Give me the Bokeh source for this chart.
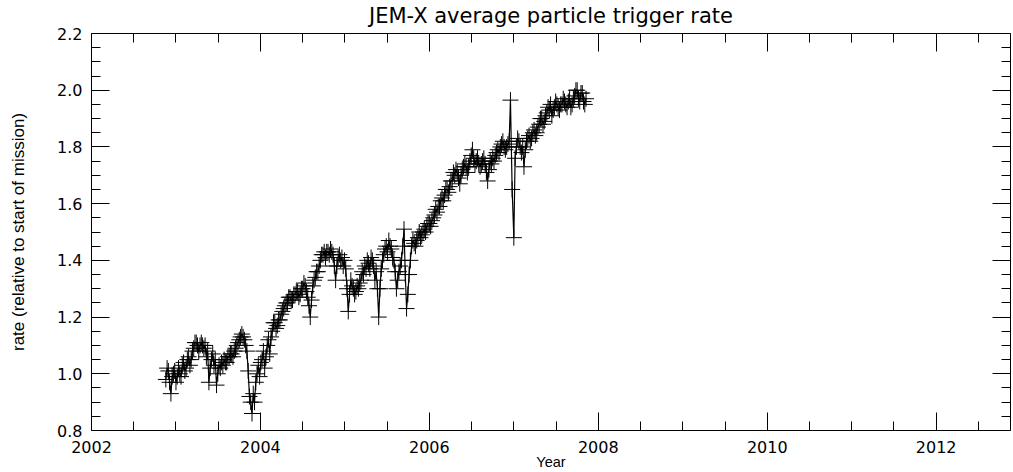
from bokeh.plotting import figure
from bokeh.models import Range1d, LinearAxis, FixedTicker, PrintfTickFormatter
from bokeh.embed import file_html
from bokeh.resources import INLINE

years = [2002.88, 2002.895, 2002.91, 2002.925, 2002.94, 2002.955, 2002.97, 2002.985, 2003.00, 2003.015,
         2003.03, 2003.045, 2003.06, 2003.075, 2003.09, 2003.105, 2003.12, 2003.135, 2003.15, 2003.165,
         2003.18, 2003.195, 2003.21, 2003.225, 2003.24, 2003.255, 2003.27, 2003.285, 2003.30, 2003.315,
         2003.33, 2003.345, 2003.36, 2003.375, 2003.39, 2003.405, 2003.42, 2003.435, 2003.45, 2003.465,
         2003.48, 2003.495, 2003.51, 2003.525, 2003.54, 2003.555, 2003.57, 2003.585, 2003.60, 2003.615,
         2003.63, 2003.645, 2003.66, 2003.675, 2003.69, 2003.705, 2003.72, 2003.735, 2003.75, 2003.765,
         2003.78, 2003.795, 2003.81, 2003.825, 2003.84, 2003.855, 2003.87, 2003.885, 2003.90, 2003.915,
         2003.93, 2003.945, 2003.96, 2003.975, 2003.99, 2004.005, 2004.02, 2004.035, 2004.05, 2004.065,
         2004.08, 2004.095, 2004.11, 2004.125, 2004.14, 2004.155, 2004.17, 2004.185, 2004.20, 2004.215,
         2004.23, 2004.245, 2004.26, 2004.275, 2004.29, 2004.305, 2004.32, 2004.335, 2004.35, 2004.365,
         2004.38, 2004.395, 2004.41, 2004.425, 2004.44, 2004.455, 2004.47, 2004.485, 2004.50, 2004.515,
         2004.53, 2004.545, 2004.56, 2004.575, 2004.59, 2004.605, 2004.62, 2004.635, 2004.65, 2004.665,
         2004.68, 2004.695, 2004.71, 2004.725, 2004.74, 2004.755, 2004.77, 2004.785, 2004.80, 2004.815,
         2004.83, 2004.845, 2004.86, 2004.875, 2004.89, 2004.905, 2004.92, 2004.935, 2004.95, 2004.965,
         2004.98, 2004.995, 2005.01, 2005.025, 2005.04, 2005.055, 2005.07, 2005.085, 2005.10, 2005.115,
         2005.13, 2005.145, 2005.16, 2005.175, 2005.19, 2005.205, 2005.22, 2005.235, 2005.25, 2005.265,
         2005.28, 2005.295, 2005.31, 2005.325, 2005.34, 2005.355, 2005.37, 2005.385, 2005.40, 2005.415,
         2005.43, 2005.445, 2005.46, 2005.475, 2005.49, 2005.505, 2005.52, 2005.535, 2005.55, 2005.565,
         2005.58, 2005.595, 2005.61, 2005.625, 2005.64, 2005.655, 2005.67, 2005.685, 2005.70, 2005.715,
         2005.73, 2005.745, 2005.76, 2005.775, 2005.79, 2005.805, 2005.82, 2005.835, 2005.85, 2005.865,
         2005.88, 2005.895, 2005.91, 2005.925, 2005.94, 2005.955, 2005.97, 2005.985, 2006.00, 2006.015,
         2006.03, 2006.045, 2006.06, 2006.075, 2006.09, 2006.105, 2006.12, 2006.135, 2006.15, 2006.165,
         2006.18, 2006.195, 2006.21, 2006.225, 2006.24, 2006.255, 2006.27, 2006.285, 2006.30, 2006.315,
         2006.33, 2006.345, 2006.36, 2006.375, 2006.39, 2006.405, 2006.42, 2006.435, 2006.45, 2006.465,
         2006.48, 2006.495, 2006.51, 2006.525, 2006.54, 2006.555, 2006.57, 2006.585, 2006.60, 2006.615,
         2006.63, 2006.645, 2006.66, 2006.675, 2006.69, 2006.705, 2006.72, 2006.735, 2006.75, 2006.765,
         2006.78, 2006.795, 2006.81, 2006.825, 2006.84, 2006.855, 2006.87, 2006.885, 2006.90, 2006.915,
         2006.93, 2006.945, 2006.96, 2006.98, 2007.00, 2007.015, 2007.03, 2007.045, 2007.06, 2007.075,
         2007.09, 2007.105, 2007.12, 2007.135, 2007.15, 2007.165, 2007.18, 2007.195, 2007.21, 2007.225,
         2007.24, 2007.255, 2007.27, 2007.285, 2007.30, 2007.315, 2007.33, 2007.345, 2007.36, 2007.375,
         2007.39, 2007.405, 2007.42, 2007.435, 2007.45, 2007.465, 2007.48, 2007.495, 2007.51, 2007.525,
         2007.54, 2007.555, 2007.57, 2007.585, 2007.60, 2007.615, 2007.63, 2007.645, 2007.66, 2007.675,
         2007.69, 2007.705, 2007.72, 2007.735, 2007.75, 2007.765, 2007.78, 2007.795, 2007.81, 2007.825,
         2007.84, 2007.855]

rates = [0.98, 1.02, 1.01, 0.97, 0.93, 0.99, 1.00, 1.01, 0.97, 0.99,
         1.02, 1.00, 0.99, 1.03, 1.04, 1.01, 1.02, 1.05, 1.06, 1.03,
         1.05, 1.08, 1.09, 1.11, 1.11, 1.10, 1.08, 1.10, 1.11, 1.10,
         1.09, 1.10, 1.06, 1.08, 0.97, 1.02, 1.05, 1.07, 1.03, 1.05,
         0.96, 1.00, 1.03, 1.02, 1.04, 1.03, 1.05, 1.04, 1.04, 1.06,
         1.06, 1.07, 1.07, 1.06, 1.08, 1.09, 1.10, 1.11, 1.12, 1.13,
         1.14, 1.13, 1.12, 1.10, 1.08, 1.01, 0.92, 0.90, 0.86, 0.93,
         0.90, 0.97, 1.00, 1.03, 0.99, 1.04, 1.05, 1.08, 1.02, 1.06,
         1.10, 1.12, 1.07, 1.13, 1.15, 1.18, 1.18, 1.16, 1.17, 1.19,
         1.19, 1.21, 1.22, 1.23, 1.24, 1.25, 1.25, 1.27, 1.27, 1.26,
         1.26, 1.28, 1.28, 1.29, 1.29, 1.27, 1.28, 1.30, 1.30, 1.32,
         1.31, 1.29, 1.27, 1.24, 1.20, 1.26, 1.31, 1.33, 1.34, 1.36,
         1.36, 1.38, 1.40, 1.42, 1.42, 1.43, 1.41, 1.43, 1.43, 1.42,
         1.44, 1.43, 1.42, 1.38, 1.33, 1.38, 1.41, 1.42, 1.40, 1.41,
         1.38, 1.40, 1.37, 1.30, 1.22, 1.28, 1.33, 1.31, 1.30, 1.28,
         1.29, 1.31, 1.30, 1.32, 1.33, 1.36, 1.35, 1.38, 1.37, 1.40,
         1.39, 1.37, 1.41, 1.40, 1.38, 1.33, 1.36, 1.30, 1.20, 1.30,
         1.37, 1.40, 1.42, 1.44, 1.45, 1.43, 1.47, 1.45, 1.44, 1.41,
         1.40, 1.36, 1.30, 1.33, 1.36, 1.38, 1.40, 1.45, 1.51, 1.35,
         1.23, 1.28, 1.35, 1.40, 1.45, 1.47, 1.46, 1.45, 1.47, 1.48,
         1.50, 1.48, 1.49, 1.50, 1.51, 1.50, 1.52, 1.53, 1.53, 1.52,
         1.54, 1.55, 1.56, 1.58, 1.57, 1.59, 1.59, 1.61, 1.62, 1.61,
         1.63, 1.65, 1.65, 1.64, 1.66, 1.68, 1.68, 1.71, 1.70, 1.72,
         1.71, 1.69, 1.67, 1.70, 1.72, 1.73, 1.74, 1.73, 1.71, 1.73,
         1.75, 1.77, 1.79, 1.76, 1.74, 1.75, 1.76, 1.74, 1.73, 1.74,
         1.75, 1.76, 1.74, 1.71, 1.68, 1.72, 1.75, 1.74, 1.76, 1.75,
         1.77, 1.78, 1.79, 1.78, 1.80, 1.81, 1.82, 1.80, 1.79, 1.80,
         1.81, 1.82, 1.965, 1.65, 1.48, 1.76, 1.80, 1.83, 1.82, 1.80,
         1.78, 1.80, 1.73, 1.79, 1.82, 1.83, 1.84, 1.82, 1.83, 1.85,
         1.86, 1.84, 1.85, 1.87, 1.88, 1.90, 1.90, 1.88, 1.89, 1.91,
         1.92, 1.94, 1.93, 1.95, 1.91, 1.93, 1.94, 1.96, 1.95, 1.94,
         1.93, 1.95, 1.95, 1.97, 1.96, 1.95, 1.94, 1.96, 1.97, 1.94,
         1.95, 1.97, 1.98, 2.00, 2.00, 1.97, 1.96, 1.99, 1.99, 1.96,
         1.95, 1.97]

x_major = [2002, 2004, 2006, 2008, 2010, 2012]
x_minor = [2002.5, 2003, 2003.5, 2004.5, 2005, 2005.5, 2006.5, 2007, 2007.5,
           2008.5, 2009, 2009.5, 2010.5, 2011, 2011.5, 2012.5]
y_major = [0.8, 1.0, 1.2, 1.4, 1.6, 1.8, 2.0, 2.2]
y_minor = [0.85, 0.9, 0.95, 1.05, 1.1, 1.15, 1.25, 1.3, 1.35, 1.45, 1.5, 1.55,
           1.65, 1.7, 1.75, 1.85, 1.9, 1.95, 2.05, 2.1, 2.15]

title_text = "JEM-X average particle trigger rate"
xlabel_text = "Year"
ylabel_text = "rate (relative to start of mission)"

TICK_FONT = "DejaVu Sans"
LABEL_FONT = "Liberation Sans"

p = figure(width=1013, height=472, output_backend="svg", toolbar_location=None,
           x_range=Range1d(2002, 2012.88), y_range=Range1d(0.8, 2.2),
           x_axis_location=None, y_axis_location=None,
           min_border_left=91, min_border_right=3, min_border_top=31, min_border_bottom=41)
p.xgrid.visible = False
p.ygrid.visible = False
p.outline_line_color = None
p.background_fill_color = "white"
p.border_fill_color = "white"

xt = FixedTicker(ticks=x_major, minor_ticks=x_minor)
yt = FixedTicker(ticks=y_major, minor_ticks=y_minor)

def style(ax, show_labels):
    ax.major_tick_in = 18
    ax.major_tick_out = 0
    ax.minor_tick_in = 9
    ax.minor_tick_out = 0
    ax.axis_line_color = "black"
    ax.major_tick_line_color = "black"
    ax.minor_tick_line_color = "black"
    ax.major_label_text_font = TICK_FONT
    if show_labels:
        ax.major_label_text_font_size = "16px"
        ax.major_label_text_color = "black"
    else:
        ax.major_label_text_font_size = "1px"
        ax.major_label_text_color = None
        ax.major_label_standoff = 0

bottom = LinearAxis(ticker=xt, formatter=PrintfTickFormatter(format="%d"),
                    axis_label=xlabel_text)
style(bottom, True)
bottom.major_label_standoff = 10
bottom.axis_label_standoff = -2
bottom.axis_label_text_font = LABEL_FONT
bottom.axis_label_text_font_size = "14.5px"
bottom.axis_label_text_font_style = "normal"
bottom.axis_label_text_color = "black"
p.add_layout(bottom, "below")

top = LinearAxis(ticker=xt, formatter=PrintfTickFormatter(format="%d"),
                 axis_label=title_text)
style(top, False)
top.axis_label_standoff = 6
top.axis_label_text_font = TICK_FONT
top.axis_label_text_font_size = "21px"
top.axis_label_text_font_style = "normal"
top.axis_label_text_color = "black"
p.add_layout(top, "above")

left = LinearAxis(ticker=yt, formatter=PrintfTickFormatter(format="%.1f"),
                  axis_label=ylabel_text)
style(left, True)
left.major_label_standoff = 9
left.axis_label_standoff = 26
left.axis_label_text_font = LABEL_FONT
left.axis_label_text_font_size = "17px"
left.axis_label_text_font_style = "normal"
left.axis_label_text_color = "black"
p.add_layout(left, "left")

right = LinearAxis(ticker=yt, formatter=PrintfTickFormatter(format="%.1f"))
style(right, False)
p.add_layout(right, "right")

p.line(years, rates, line_color="black", line_width=1.2)
p.scatter(years, rates, marker="cross", size=16, line_color="black", line_width=1)

open("out.html", "w").write(file_html(p, INLINE))
